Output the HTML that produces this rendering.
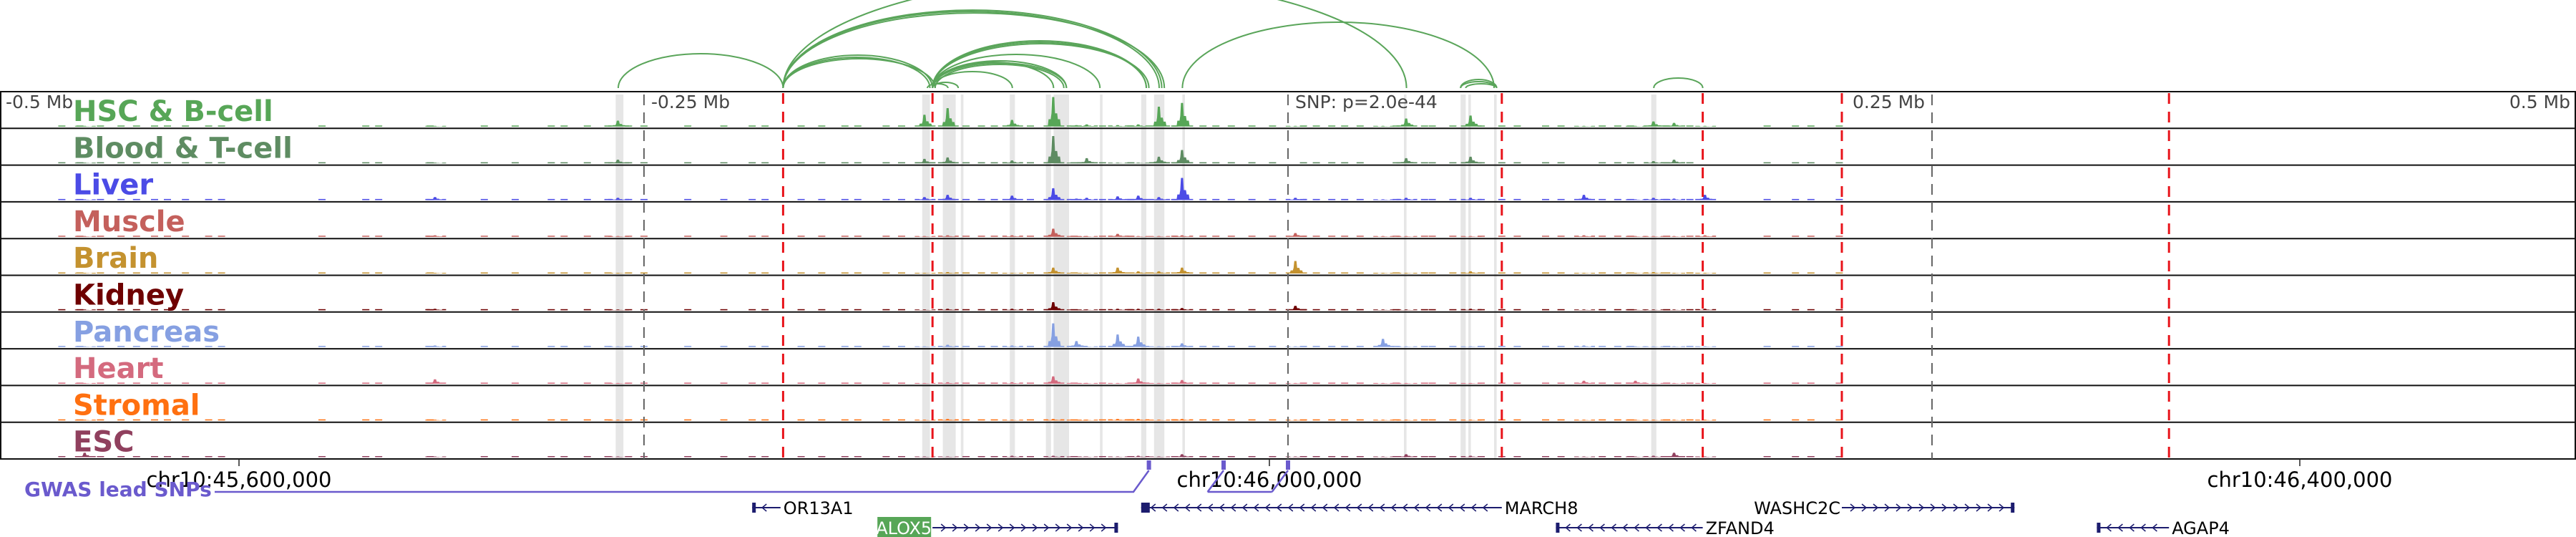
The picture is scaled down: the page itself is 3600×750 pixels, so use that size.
<!DOCTYPE html>
<html><head><meta charset="utf-8">
<style>
html,body{margin:0;padding:0;background:#fff;}
svg{display:block;}
text{font-family:"DejaVu Sans","Liberation Sans",sans-serif;}
</style></head>
<body>
<svg id="chart" width="3600" height="750" viewBox="0 0 3600 750" xmlns="http://www.w3.org/2000/svg">
<g id="bands"></g>
<g id="arcs"></g>
<g id="tracks"></g>
<g id="vlines"></g>
<g id="labels"></g>
<g id="bottom"></g>
</svg>
<script>
// ---- data (offsets in kb relative to lead SNP) ----
const peakPos = [-467,-331,-260,-141,-132,-107,-91,-82,-78,-66,-58,-50,-41,3,37,46,71,115,135,142,150,162];
const hsc      = [1,1,8,16,25,9,40,2,3,2,3,27,32,1,1,11,15,1,1,7,5,1];
const blood    = [1,1,5,6,8,4,37,1,7,1,1,9,18,0,0,7,9,0,0,3,5,0];
const liver    = [1,4,3,4,7,6,16,2,3,5,6,4,30,3,1,3,3,7,1,3,2,7];
const muscle   = [1,2,1,1,2,2,11,1,1,4,1,1,2,5,1,1,1,2,1,1,1,2];
const brain    = [1,1,1,1,2,1,8,1,1,8,3,3,8,17,1,1,3,1,1,2,1,1];
const kidney   = [1,2,1,1,2,2,11,1,1,2,2,2,3,6,1,1,2,1,1,1,1,2];
const pancreas = [1,2,1,1,3,2,32,8,1,17,14,1,5,1,11,1,1,2,1,1,1,1];
const heart    = [1,6,1,1,2,2,10,1,1,1,7,1,5,1,1,1,1,4,4,1,1,1];
const stromal  = [1,1,1,1,2,1,2,1,1,2,2,1,2,1,1,1,1,1,1,1,1,1];
const esc      = [6,1,1,1,1,2,2,1,1,1,2,1,4,1,1,4,2,1,1,2,6,1];
const bgPos = [-476,-469,-461,-453,-447,-440,-435,-428,-419,-414,-375,-358,-353,-333,-312,-300,-286,-281,-272,-264,-256,-250,-233,-219,-208,-203,-189,-181,-172,-167,-156,-150,-125,-119,-114,-100,-83,-72,-61,-44,-33,-28,-22,-14,-6,6,11,17,22,28,42,53,56,64,75,83,89,100,106,122,128,133,147,156,186,197,203,214];
const trackNames = ["HSC & B-cell","Blood & T-cell","Liver","Muscle","Brain","Kidney","Pancreas","Heart","Stromal","ESC"];
const arcStart = [-260,-196,-196,-196,-196,-196,-196,-196,-138,-138,-137,-138,-138,-138,-138,-138,-138,-138,-140,-41,67,67,69,142];
const arcEnd   = [-196,-138,-139,-137,-49,-50,-48,46,-86,-86,-87,-55,-55,-54,-73,-107,-91,-128,-132,80,81,81,81,161];
const arcScore = [48,46,43,41,109,107,105,153,35,38,33,66,64,62,47,23,36,8,6,92,12,9,6,14];
const bandStart = [-261,-142,-134,-127,-108,-94,-91,-73,-57,-52,-41,45,67,70,80,141];
const bandEnd   = [-258,-139,-129,-126,-106,-92,-85,-72,-55,-48,-40,46,69,71,81,143];
const redLines = [-196,-138,83,161,215,342];
const grayLines = [-250,0,250];
const snpPos = [-54,-25,0];
const axisTicks = [45600000,46000000,46400000];
const axisTickLabels = ["chr10:45,600,000","chr10:46,000,000","chr10:46,400,000"];
const genes = [
 {name:"OR13A1",start:-208,end:-197,row:0,strand:-1,labelSide:"right"},
 {name:"MARCH8",start:-57,end:83,row:0,strand:-1,labelSide:"right"},
 {name:"ALOX5",start:-138,end:-66,row:1,strand:1,labelSide:"left"},
 {name:"ZFAND4",start:104,end:161,row:1,strand:-1,labelSide:"right"},
 {name:"WASHC2C",start:215,end:282,row:0,strand:1,labelSide:"left"},
 {name:"AGAP4",start:314,end:342,row:1,strand:-1,labelSide:"right"}
];
// ---- scales ----
const X = kb => 1800 + kb*3.6;
const XG = bp => 334 + (bp-45600000)/1000*3.6;
const TOP = 128, TH = 51.3;
const colors = ["#57a657","#5e8c62","#4b4be6","#c4605c","#c4922f","#6e0000","#86a0e2","#d46a7e","#ff7010","#90405e"];
const series = [hsc,blood,liver,muscle,brain,kidney,pancreas,heart,stromal,esc];
const NS="http://www.w3.org/2000/svg";
function mk(tag, attrs, parent){const e=document.createElementNS(NS,tag);for(const k in attrs)e.setAttribute(k,attrs[k]);parent.appendChild(e);return e;}
const gBands=document.getElementById('bands'),gArcs=document.getElementById('arcs'),gTr=document.getElementById('tracks'),gV=document.getElementById('vlines'),gL=document.getElementById('labels'),gB=document.getElementById('bottom');

bandStart.forEach((s,i)=>{
  const r=mk('rect',{x:X(s),y:TOP+4,width:Math.max(3,X(bandEnd[i])-X(s)),height:TH*10-4,fill:'#e6e6e6'},gBands);
  
  
});

const BASE=123;
arcStart.forEach((s,i)=>{
  const x1=X(s),x2=X(arcEnd[i]);const rx=(x2-x1)/2;
  const p=mk('path',{d:`M${x1},${BASE} A${rx},${arcScore[i]} 0 0 1 ${x2},${BASE}`,fill:'none',stroke:'#5aa55a','stroke-width':2},gArcs);
  
  
});

series.forEach((vals,t)=>{
  const top=TOP+t*TH, base=top+TH-2.5;
  const g=mk('g',{},gTr);
  
  
  const y=v=>base-v*(TH-8)/42;
  bgPos.forEach(p=>{
    const r=mk('rect',{x:X(p)-5,y:base-1.5,width:10,height:1.5,fill:colors[t]},g);
    
    
  });
  vals.forEach((v,i)=>{
    if(v<=0)return;
    const x=X(peakPos[i]);
    const h=y(v), lo=y(Math.min(v,1.5)), mid=base-(base-h)*0.45, low=base-(base-h)*0.25;
    const pth=mk('path',{d:`M${x-14},${base} L${x-14},${lo} L${x-8},${lo} L${x-7},${low} L${x-4},${low} L${x-3},${mid} L${x-2},${h} L${x+1},${h} L${x+2},${mid} L${x+5},${mid} L${x+6},${low} L${x+9},${low} L${x+10},${lo} L${x+15},${lo} L${x+15},${base} Z`,fill:colors[t]},g);
    
    
  });
  const ln=mk('line',{x1:0,x2:3600,y1:top+TH,y2:top+TH,stroke:'#111','stroke-width':2},g);
  
  
  const lab=mk('text',{x:102,y:top+41,fill:colors[t],'font-size':40,'font-weight':'bold'},gL);
  lab.textContent=trackNames[t];
  
  
});
// frame
let fr=mk('line',{x1:0,x2:3600,y1:TOP,y2:TOP,stroke:'#111','stroke-width':2},gV);

fr=mk('line',{x1:1,x2:1,y1:TOP,y2:TOP+TH*10,stroke:'#111','stroke-width':2},gV);

fr=mk('line',{x1:3599,x2:3599,y1:TOP,y2:TOP+TH*10,stroke:'#111','stroke-width':2},gV);


grayLines.forEach(k=>{
  const l=mk('line',{x1:X(k),x2:X(k),y1:TOP+4,y2:TOP+TH*10,stroke:'#666','stroke-width':2,'stroke-dasharray':'15,10'},gV);
  
  
});
redLines.forEach(k=>{
  const l=mk('line',{x1:X(k),x2:X(k),y1:TOP+2,y2:TOP+TH*10,stroke:'#e8141b','stroke-width':3,'stroke-dasharray':'15,11'},gV);
  
  
});
const distLabels=[["-0.5 Mb",8,"start"],["-0.25 Mb",910,"start"],["SNP: p=2.0e-44",1810,"start"],["0.25 Mb",2589,"start"],["0.5 Mb",3592,"end"]];
distLabels.forEach(d=>{
  const t=mk('text',{x:d[1],y:151,'font-size':25,fill:'#444','text-anchor':d[2]},gL);
  t.textContent=d[0];
  
  
});

// axis
const AX=TOP+TH*10;
axisTicks.forEach((b,i)=>{
  const x=XG(b);
  const tk=mk('line',{x1:x,x2:x,y1:AX,y2:AX+10,stroke:'#222','stroke-width':1.5},gB);
  
  
  const t=mk('text',{x:x,y:680,'font-size':29,fill:'#000','text-anchor':'middle'},gB);
  t.textContent=axisTickLabels[i];
  
  
});
// GWAS
const gw=mk('text',{x:34,y:693,'font-size':28,'font-weight':'bold',fill:'#6a5acd'},gB);
gw.textContent='GWAS lead SNPs';


const snpDrop=[-60,-29,-4];
const gl=mk('path',{d:`M300,687 L${X(snpDrop[0])},687 L${X(snpPos[0])},657 M${X(snpDrop[1])-8},687 L${X(snpDrop[2])-8},687 M${X(snpDrop[1])-8},687 L${X(snpPos[1])},657 M${X(snpDrop[2])-8},687 L${X(snpPos[2])},657`,fill:'none',stroke:'#6a5acd','stroke-width':2.5},gB);


snpPos.forEach(k=>{
  const r=mk('rect',{x:X(k)-3,y:643,width:6,height:13,fill:'#6a5acd'},gB);
  
  
});
// genes
genes.forEach(g=>{
  const x1=X(g.start),x2=X(g.end),y=g.row?737:709;
  const grp=mk('g',{},gB);
  
  
  mk('line',{x1:x1,x2:x2,y1:y,y2:y,stroke:'#1c1c6e','stroke-width':2},grp);
  mk('rect',{x:g.strand<0?x1:x2-5,y:y-7,width:g.name==='MARCH8'?12:5,height:14,fill:'#1c1c6e'},grp);
  let d='';
  for(let x=x1+16;x<x2-8;x+=16){
    d+= g.strand>0?`M${x-4},${y-5} L${x+2},${y} L${x-4},${y+5} `:`M${x+4},${y-5} L${x-2},${y} L${x+4},${y+5} `;
  }
  mk('path',{d:d,fill:'none',stroke:'#1c1c6e','stroke-width':1.5},grp);
  if(g.name==='ALOX5'){
    mk('rect',{x:x1-77,y:y-15,width:75,height:30,fill:'#57a657'},grp);
    const t=mk('text',{x:x1-40,y:y+9,'font-size':24,fill:'#fff','text-anchor':'middle'},grp);
    t.textContent=g.name;
    
    
  } else {
    const t=mk('text',{x:g.labelSide==='right'?x2+4:x1-2,y:y+9,'font-size':24,fill:'#000','text-anchor':g.labelSide==='right'?'start':'end'},grp);
    t.textContent=g.name;
    
    
  }
});
</script>
</body></html>
